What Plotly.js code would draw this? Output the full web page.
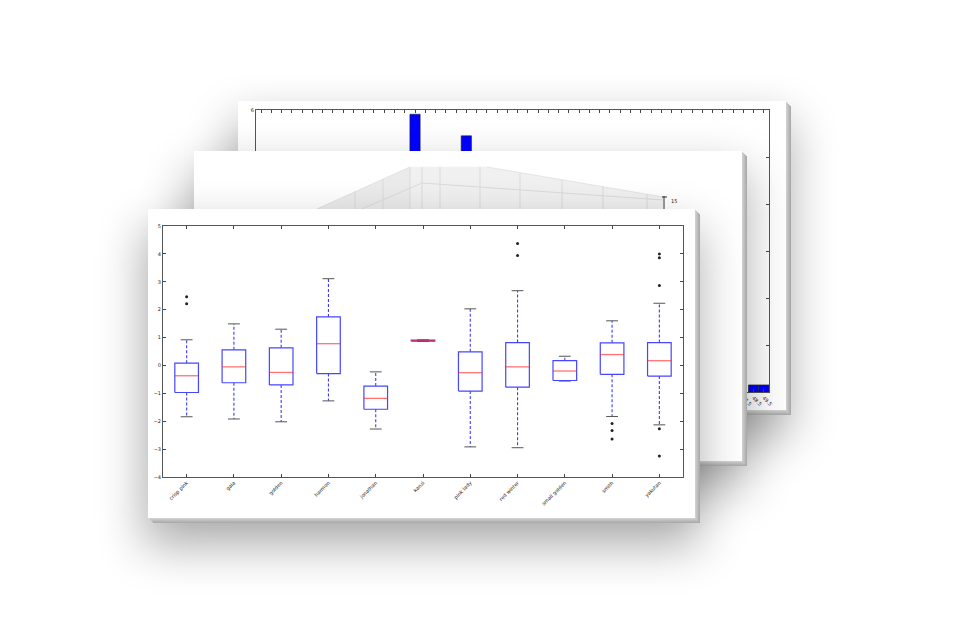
<!DOCTYPE html>
<html><head><meta charset="utf-8">
<script src="https://cdn.plot.ly/plotly-3.0.1.min.js"></script>
<style>
html,body{margin:0;padding:0;width:954px;height:626px;overflow:hidden;background:#fff;}
.card{position:absolute;background:#fff;
 box-shadow:1px 1px 0 #cfcfcf,2px 2px 0 #c6c6c6,3px 3px 0 #bdbdbd,4px 4px 0 #b4b4b4,5px 5px 0 #ababab,0 24px 44px 4px rgba(0,0,0,0.32);}
</style></head><body>
<div id="back" class="card" style="left:238px;top:101px;width:548px;height:309px;"></div>
<div id="mid" class="card" style="left:194px;top:151px;width:548px;height:310px;"></div>
<div id="front" class="card" style="left:148px;top:209px;width:547px;height:309px;"></div>
<script>
// ---------- front card: box plot ----------
const names = ['crisp pink','gala','golden','harmon','jonathan','kanzi','pink lady','red winter','small golden','smith','yakutan'];
const lowWhisker  = [-1.84,-1.92,-2.02,-1.27,-2.28,0.86,-2.92,-2.95,-0.56,-1.83,-2.13];
const q1          = [-0.97,-0.62,-0.70,-0.29,-1.57,0.87,-0.92,-0.78,-0.54,-0.32,-0.38];
const median      = [-0.37,-0.05,-0.25, 0.78,-1.18,0.89,-0.26,-0.05,-0.20, 0.39, 0.17];
const q3          = [ 0.08, 0.56, 0.63, 1.74,-0.74,0.91, 0.49, 0.82, 0.17, 0.81, 0.82];
const highWhisker = [ 0.92, 1.49, 1.30, 3.11,-0.23,0.92, 2.03, 2.68, 0.33, 1.60, 2.23];
const outlierGroup  = [0,0,7,7,9,9,9,10,10,10,10,10];
const outlierValues = [2.46,2.21,4.37,3.94,-2.08,-2.33,-2.64,4.00,3.86,2.87,-2.27,-3.25];

// ---------- back card: histogram-like bars ----------
const binCenters = [15.5, 20.5, 48.5, 49.5];
const binCounts  = [5.91, 5.45, 0.15, 0.15];

const BW = 0.25, CW = 0.125;
const bx=[],by=[],wx=[],wy=[],cx=[],cy=[],mx=[],my=[];
names.forEach((n,i)=>{
  const p=i+1;
  bx.push(p-BW,p+BW,p+BW,p-BW,p-BW,null); by.push(q1[i],q1[i],q3[i],q3[i],q1[i],null);
  wx.push(p,p,null,p,p,null); wy.push(q3[i],highWhisker[i],null,q1[i],lowWhisker[i],null);
  cx.push(p-CW,p+CW,null,p-CW,p+CW,null); cy.push(highWhisker[i],highWhisker[i],null,lowWhisker[i],lowWhisker[i],null);
  mx.push(p-BW,p+BW,null); my.push(median[i],median[i],null);
});
const ox = outlierGroup.map(g=>g+1);
const fnt = {family:'DejaVu Sans',size:5,color:'#222'};
const frontData = [
  {type:'scatter',mode:'lines',x:wx,y:wy,line:{color:'rgb(60,60,255)',width:1.1,dash:'3px,2px'},hoverinfo:'skip'},
  {type:'scatter',mode:'lines',x:cx,y:cy,line:{color:'#555',width:1},hoverinfo:'skip'},
  {type:'scatter',mode:'lines',x:bx,y:by,line:{color:'rgb(70,70,255)',width:1.2},hoverinfo:'skip'},
  {type:'scatter',mode:'lines',x:mx,y:my,line:{color:'rgba(255,40,40,0.65)',width:1.3},hoverinfo:'skip'},
  {type:'scatter',mode:'markers',x:ox,y:outlierValues,marker:{color:'#222',size:3},hoverinfo:'skip'}
];
const axBase = {ticks:'inside',ticklen:3,tickcolor:'#444',showline:true,linecolor:'#555',linewidth:1,mirror:'allticks',showgrid:false,zeroline:false,tickfont:fnt};
Plotly.newPlot('front',frontData,{
  width:547,height:309,margin:{l:15,r:12,t:17,b:41},
  paper_bgcolor:'rgba(0,0,0,0)',plot_bgcolor:'#fff',showlegend:false,
  xaxis:Object.assign({},axBase,{range:[0.5,11.5],tickmode:'array',tickvals:names.map((n,i)=>i+1),ticktext:names,tickangle:-45}),
  yaxis:Object.assign({},axBase,{range:[-4,5],dtick:1,tick0:0})
},{staticPlot:true});

// back card bar chart
Plotly.newPlot('back',[{type:'bar',x:binCenters,y:binCounts,width:1,marker:{color:'#0000ff',line:{color:'#222',width:0.6}},hoverinfo:'skip'}],{
  width:548,height:309,margin:{l:18,r:17,t:9,b:18},
  paper_bgcolor:'rgba(0,0,0,0)',plot_bgcolor:'#fff',showlegend:false,
  xaxis:Object.assign({},axBase,{range:[0,50],tick0:0.5,dtick:1,tickangle:45}),
  yaxis:Object.assign({},axBase,{range:[0,6],dtick:1,tick0:0})
},{staticPlot:true});

// middle card: faint 3D axes panes (decoration)
const g='#dadada';
const shapes=[
  {type:'path',path:'M 123 58 L 216 16 L 216 120 L 60 120 Z',fillcolor:'#ebebeb',line:{width:0}},
  {type:'path',path:'M 216 16 L 293 16 L 469 46 L 469 120 L 216 120 Z',fillcolor:'#f0f0f0',line:{width:0}},
  {type:'line',x0:123,y0:58,x1:216,y1:16,line:{color:'#e2e2e2',width:1}},
  {type:'line',x0:216,y0:16,x1:293,y1:16,line:{color:'#f4f4f4',width:1}},
  {type:'line',x0:293,y0:16,x1:469,y1:46,line:{color:'#e4e4e4',width:1}},
  {type:'line',x0:228,y0:32,x1:469,y1:49,line:{color:g,width:1}},
  {type:'line',x0:228,y0:32,x1:140,y1:70,line:{color:g,width:1}},
  {type:'line',x0:216,y0:16,x1:216,y1:70,line:{color:g,width:1}},
  {type:'line',x0:228,y0:16,x1:228,y1:70,line:{color:g,width:1}},
  {type:'line',x0:161,y0:40,x1:161,y1:70,line:{color:g,width:1}},
  {type:'line',x0:189,y0:28,x1:189,y1:70,line:{color:g,width:1}},
  {type:'line',x0:246,y0:16,x1:246,y1:70,line:{color:g,width:1}},
  {type:'line',x0:286,y0:16,x1:286,y1:70,line:{color:g,width:1}},
  {type:'line',x0:326,y0:22,x1:326,y1:70,line:{color:g,width:1}},
  {type:'line',x0:368,y0:29,x1:368,y1:70,line:{color:g,width:1}},
  {type:'line',x0:409,y0:36,x1:409,y1:70,line:{color:g,width:1}},
  {type:'line',x0:453,y0:43,x1:453,y1:70,line:{color:g,width:1}},
  {type:'line',x0:470,y0:45,x1:470,y1:58,line:{color:'#333',width:1}},
  {type:'line',x0:468,y0:46,x1:473,y1:46,line:{color:'#333',width:1}}
];
Plotly.newPlot('mid',[],{
  width:548,height:310,margin:{l:0,r:0,t:0,b:0},
  paper_bgcolor:'rgba(0,0,0,0)',plot_bgcolor:'rgba(0,0,0,0)',showlegend:false,
  xaxis:{range:[0,548],visible:false},yaxis:{range:[310,0],visible:false},
  shapes:shapes,
  annotations:[{x:475,y:50,xanchor:'left',yanchor:'middle',text:'15',showarrow:false,font:{family:'DejaVu Sans',size:5,color:'#222'}}]
},{staticPlot:true});
</script>
</body></html>
